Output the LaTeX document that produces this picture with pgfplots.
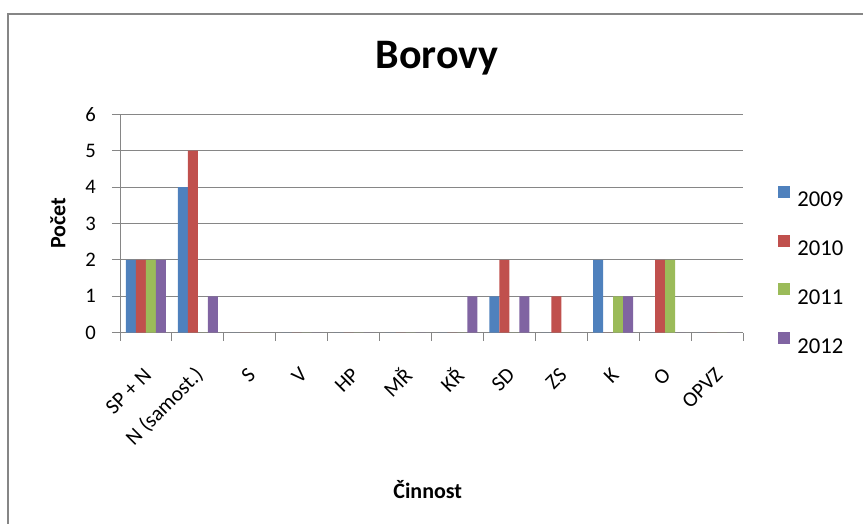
\documentclass[border=0pt]{standalone}
\usepackage{fontspec}
\setmainfont{Carlito}
\usepackage{pgfplots}
\pgfplotsset{compat=1.18}
\usepackage{pgfplotstable}
\definecolor{c09}{HTML}{4F81BD}
\definecolor{c10}{HTML}{C0504D}
\definecolor{c11}{HTML}{9BBB59}
\definecolor{c12}{HTML}{8064A2}
\definecolor{gridgray}{HTML}{868686}
\pgfplotstableread{
x y09 y10 y11 y12
0 2 2 2 2
1 4 5 0 1
2 0 0 0 0
3 0 0 0 0
4 0 0 0 0
5 0 0 0 0
6 0 0 0 1
7 1 2 0 1
8 0 1 0 0
9 2 0 1 1
10 0 2 2 0
11 0 0 0 0
}\data
\begin{document}
\begin{tikzpicture}
\useasboundingbox (0,0) rectangle (647.25pt,393pt);
\draw[line width=1.5pt, color=gridgray] (6pt,0pt) -- (6pt,382.5pt) -- (647.25pt,382.5pt);
\begin{axis}[
  at={(90pt,143.5pt)}, anchor=south west,
  scale only axis, width=467.25pt, height=163.8pt,
  ybar=0pt, bar width=7.5pt,
  enlargelimits=false,
  xmin=-0.5, xmax=11.5, ymin=0, ymax=6,
  xtick={-0.5,0.5,...,11.5},
  xticklabels={},
  extra x ticks={0,1,2,3,4,5,6,7,8,9,10,11},
  extra x tick labels={SP + N, N (samost.), S, V, HP, MŘ, KŘ, SD, ZS, K, O, OPVZ},
  extra x tick style={major tick length=0pt, tick style={draw=none}},
  ytick={0,1,2,3,4,5,6},
  axis lines=left,
  axis line style={-, draw=gridgray, line width=0.75pt},
  tick align=outside,
  major tick length=6pt,
  tick style={draw=gridgray, line width=0.75pt},
  ymajorgrids,
  grid style={draw=gridgray, line width=0.75pt},
  /pgf/number format/assume math mode=true,
  yticklabel style={font=\fontsize{15.5}{18}\selectfont, anchor=east, inner sep=0pt, xshift=-12pt},
  xticklabel style={font=\fontsize{16}{19}\selectfont, yshift=-29pt, xshift=1.5pt, rotate=45, anchor=east, inner sep=0pt},
  title={Borovy},
  title style={at={(axis description cs:0.509,1.1708)}, anchor=base, font=\fontsize{31.5}{36}\selectfont\bfseries},
  ylabel={Počet},
  ylabel style={at={(axis description cs:-0.0995,0.5)}, anchor=center, font=\fontsize{16.5}{20}\selectfont\bfseries},
  xlabel={Činnost},
  xlabel style={at={(axis description cs:0.494,-0.720)}, anchor=center, font=\fontsize{16.5}{20}\selectfont\bfseries},
  every axis plot post/.append style={legend image code/.code={\draw[#1,draw=none] (0pt,0.9pt) rectangle (9pt,9.9pt);}},
  legend cell align=left,
  legend style={at={(axis description cs:1,0.289)}, anchor=west, xshift=26.25pt, draw=none, fill=none, inner sep=0pt,
    font=\fontsize{17}{20}\selectfont, row sep=20.7pt,
    nodes={inner sep=0pt, text height=12pt, text depth=0pt},
    /tikz/every odd column/.append style={column sep=5.25pt}},
]
\addplot[fill=c09, draw=none] table[x=x, y=y09] {\data};
\addplot[fill=c10, draw=none] table[x=x, y=y10] {\data};
\addplot[fill=c11, draw=none] table[x=x, y=y11] {\data};
\addplot[fill=c12, draw=none] table[x=x, y=y12] {\data};
\legend{2009,2010,2011,2012}
\end{axis}
\end{tikzpicture}
\end{document}
